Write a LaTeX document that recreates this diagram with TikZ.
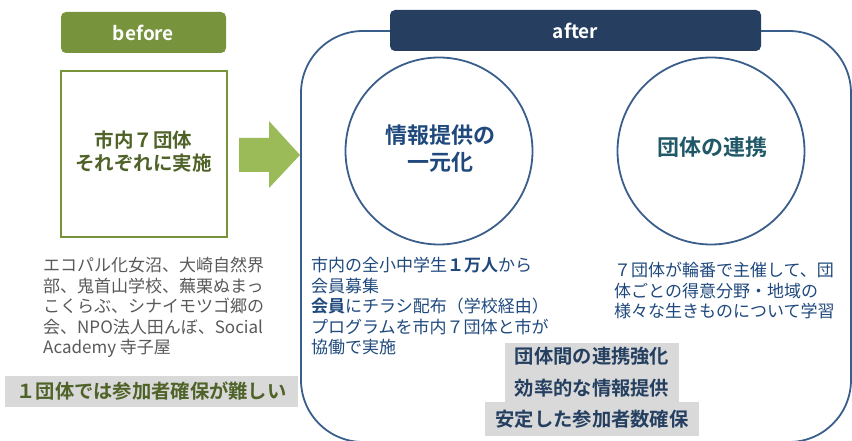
\documentclass[tikz,border=0pt]{standalone}
\usepackage{fontspec}
\setmainfont{Noto Sans CJK JP}[BoldFont={Noto Sans CJK JP Bold}]
\definecolor{befgreen}{HTML}{77933C}
\definecolor{olivetext}{HTML}{4F6228}
\definecolor{arrowgreen}{HTML}{9BBB59}
\definecolor{graytext}{HTML}{595959}
\definecolor{graybg}{HTML}{D9D9D9}
\definecolor{navyhdr}{HTML}{263F60}
\definecolor{frameblue}{HTML}{3A5E8C}
\definecolor{navytext}{HTML}{1F497D}
\definecolor{tealtext}{HTML}{215868}
\definecolor{boxtext}{HTML}{243F60}
\begin{document}
\begin{tikzpicture}[x=1pt,y=-1pt,
  hdr/.style={rounded corners=5pt, inner sep=0pt, text=white,
    font=\fontsize{19}{21}\selectfont\bfseries},
  body/.style={anchor=base west, align=left, inner sep=0pt,
    font=\fontsize{17}{20.5}\selectfont},
  graylabel/.style={fill=graybg, inner sep=0pt, align=center},
  ring/.style={circle, draw=frameblue, line width=1.8pt, minimum size=187pt, inner sep=0pt}
]
\useasboundingbox (0,0) rectangle (852,441);

% ---------- before ----------
\node[hdr, fill=befgreen, minimum width=165pt, minimum height=41pt] (before) at (143.5,32.5) {before};
\node[draw=befgreen, line width=2pt, minimum width=166pt, minimum height=165pt, inner sep=0pt] (box) at (143.5,154) {};
\node[align=center, inner sep=0pt, text=olivetext,
  font=\fontsize{19.5}{23}\selectfont\bfseries] (boxtxt) at (143.5,151.5) {市内７団体\\それぞれに実施};
% base anchor of a multi-line node = baseline of its last line
\node[body, text=graytext] (groups) at (43,353.5)
  {エコパル化女沼、大崎自然界\\部、鬼首山学校、蕪栗ぬまっ\\こくらぶ、シナイモツゴ郷の\\会、NPO法人田んぼ、Social\\Academy 寺子屋};
\node[graylabel, minimum width=293pt, minimum height=31pt, text=olivetext,
  font=\fontsize{19.3}{23}\selectfont\bfseries] (hard) at (151.5,391.5) {１団体では参加者確保が難しい};

% ---------- arrow ----------
\fill[arrowgreen] (239,138) -- (269,138) -- (269,121) -- (300,155) -- (269,188) -- (269,172) -- (239,172) -- cycle;

% ---------- after ----------
\node[draw=frameblue, line width=1.8pt, rounded corners=62pt, minimum width=550pt, minimum height=411pt, inner sep=0pt] (frame) at (576,236.5) {};
\node[hdr, fill=navyhdr, minimum width=371pt, minimum height=41pt] (after) at (575.5,30.5) {after};

\node[ring] (c1) at (439,151) {};
\node[ring] (c2) at (711,151) {};
\node[align=center, inner sep=0pt, text=navytext,
  font=\fontsize{22}{27}\selectfont\bfseries] (c1t) at (440,148.5) {情報提供の\\一元化};
\node[inner sep=0pt, text=tealtext,
  font=\fontsize{22}{27}\selectfont\bfseries] (c2t) at (712,147) {団体の連携};

\node[body, text=navytext] (left) at (311,353.5)
  {市内の全小中学生\textbf{１万人}から\\会員募集\\\textbf{会員}にチラシ配布（学校経由）\\プログラムを市内７団体と市が\\協働で実施};
\node[body, text=navytext] (right) at (614,317.5)
  {７団体が輪番で主催して、団\\体ごとの得意分野・地域の\\様々な生きものについて学習};

\node[graylabel, minimum width=174pt, minimum height=59pt, text=boxtext,
  font=\fontsize{19.3}{32}\selectfont\bfseries] (merit1) at (592,372.5) {団体間の連携強化\\効率的な情報提供};
\node[graylabel, minimum width=214pt, minimum height=34pt, text=boxtext,
  font=\fontsize{19.3}{23}\selectfont\bfseries] (merit2) at (592,419) {安定した参加者数確保};
\end{tikzpicture}
\end{document}
